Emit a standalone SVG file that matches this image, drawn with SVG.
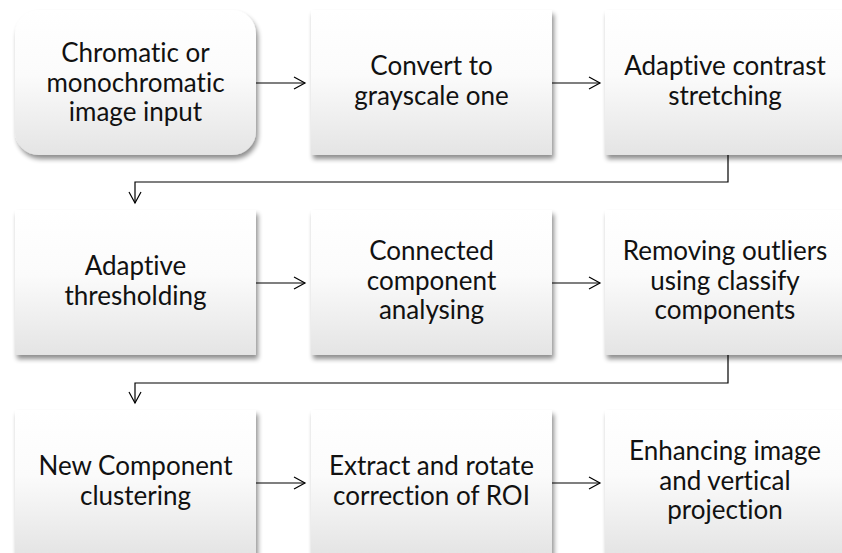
<svg xmlns="http://www.w3.org/2000/svg" width="842" height="553" viewBox="0 0 842 553">
<style>
.box{fill:url(#g);filter:url(#sh)}
.t{font-family:Lato,"Liberation Sans",sans-serif;font-size:26px;fill:#111;text-anchor:middle;font-variant-ligatures:none;font-feature-settings:"liga" 0}
.c{fill:none;stroke:#000;stroke-width:1.2}
</style>
<defs>
<linearGradient id="g" x1="0" y1="0" x2="0" y2="1">
<stop offset="0" stop-color="#ffffff"/>
<stop offset="0.45" stop-color="#fbfbfb"/>
<stop offset="1" stop-color="#e4e4e4"/>
</linearGradient>
<filter id="sh" x="-10%" y="-10%" width="130%" height="130%">
<feGaussianBlur in="SourceAlpha" stdDeviation="2.5"/>
<feOffset dx="2" dy="4" result="b"/>
<feComponentTransfer><feFuncA type="linear" slope="0.45"/></feComponentTransfer>
<feMerge><feMergeNode/><feMergeNode in="SourceGraphic"/></feMerge>
</filter>
<marker id="a" markerWidth="14" markerHeight="14" refX="12" refY="7" orient="auto" markerUnits="userSpaceOnUse">
<path d="M1,1 L12,7 L1,13" fill="none" stroke="#000" stroke-width="1.2"/>
</marker>
</defs>
<g id="connectors">
<line class="c" x1="256" y1="83" x2="305" y2="83" marker-end="url(#a)"/>
<line class="c" x1="552" y1="83" x2="600" y2="83" marker-end="url(#a)"/>
<polyline class="c" points="728,155 728,182 135,182 135,203" marker-end="url(#a)"/>
<line class="c" x1="256" y1="283" x2="305" y2="283" marker-end="url(#a)"/>
<line class="c" x1="552" y1="283" x2="600" y2="283" marker-end="url(#a)"/>
<polyline class="c" points="728,355 728,383 135,383 135,403" marker-end="url(#a)"/>
<line class="c" x1="256" y1="483" x2="305" y2="483" marker-end="url(#a)"/>
<line class="c" x1="552" y1="483" x2="600" y2="483" marker-end="url(#a)"/>
</g>
<g id="n1"><rect class="box" x="15" y="10" width="241" height="145" rx="24"/>
<text class="t"><tspan x="135.5" y="62">Chromatic or</tspan><tspan x="135.5" y="91.5">monochromatic</tspan><tspan x="135.5" y="121">image input</tspan></text></g>
<g id="n2"><rect class="box" x="311" y="10" width="241" height="145"/>
<text class="t"><tspan x="431.5" y="75">Convert to</tspan><tspan x="431.5" y="104.5">grayscale one</tspan></text></g>
<g id="n3"><rect class="box" x="605" y="10" width="241" height="145"/>
<text class="t"><tspan x="725" y="75">Adaptive contrast</tspan><tspan x="725" y="104.5">stretching</tspan></text></g>
<g id="n4"><rect class="box" x="15" y="210" width="241" height="145"/>
<text class="t"><tspan x="135.5" y="275">Adaptive</tspan><tspan x="135.5" y="304.5">thresholding</tspan></text></g>
<g id="n5"><rect class="box" x="311" y="210" width="241" height="145"/>
<text class="t"><tspan x="431.5" y="260">Connected</tspan><tspan x="431.5" y="289.5">component</tspan><tspan x="431.5" y="319">analysing</tspan></text></g>
<g id="n6"><rect class="box" x="605" y="210" width="241" height="145"/>
<text class="t"><tspan x="725" y="260">Removing outliers</tspan><tspan x="725" y="289.5">using classify</tspan><tspan x="725" y="319">components</tspan></text></g>
<g id="n7"><rect class="box" x="15" y="410" width="241" height="145"/>
<text class="t"><tspan x="135.5" y="475">New Component</tspan><tspan x="135.5" y="504.5">clustering</tspan></text></g>
<g id="n8"><rect class="box" x="311" y="410" width="241" height="145"/>
<text class="t"><tspan x="431.5" y="475">Extract and rotate</tspan><tspan x="431.5" y="504.5">correction of ROI</tspan></text></g>
<g id="n9"><rect class="box" x="605" y="410" width="241" height="145"/>
<text class="t"><tspan x="725" y="460">Enhancing image</tspan><tspan x="725" y="489.5">and vertical</tspan><tspan x="725" y="519">projection</tspan></text></g>
</svg>
